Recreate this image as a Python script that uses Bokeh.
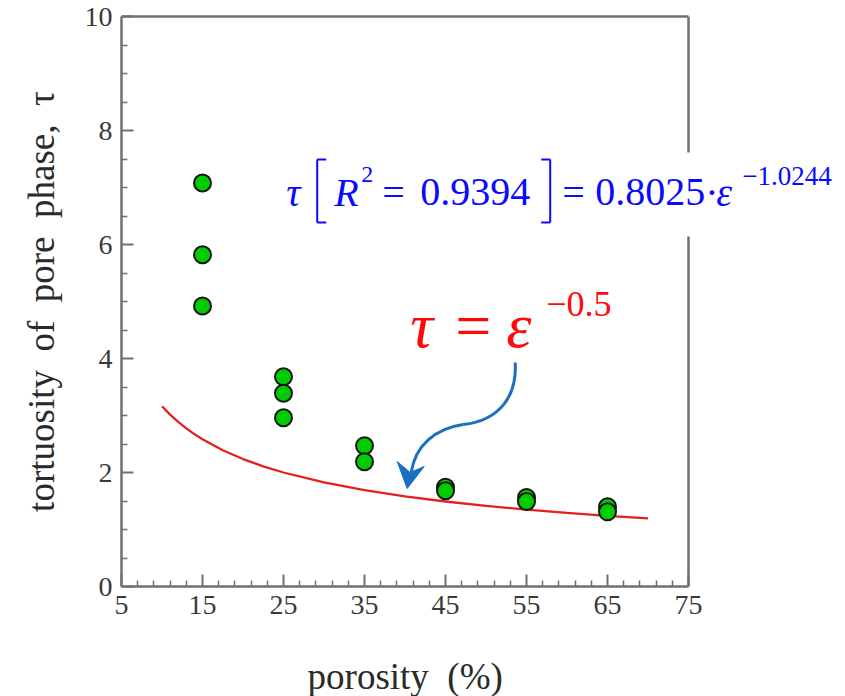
import numpy as np
from bokeh.plotting import figure
from bokeh.models import FixedTicker, Label, Range1d, LinearAxis, Span, BoxAnnotation
from bokeh.embed import file_html
from bokeh.resources import INLINE

# ---- data ----
porosity = [15, 15, 15, 25, 25, 25, 35, 35, 45, 45, 55, 55, 65, 65]
tortuosity = [7.08, 5.82, 4.92, 3.68, 3.39, 2.96, 2.47, 2.19, 1.74, 1.68, 1.56, 1.49, 1.40, 1.31]

curve_porosity = [10, 11, 12, 13, 14, 15, 17.5, 20, 22.5, 25, 30, 35, 40, 45, 50, 55, 60, 65, 70]
curve_tau = [3.162, 3.015, 2.887, 2.774, 2.673, 2.582, 2.390, 2.236, 2.108, 2.000,
             1.826, 1.690, 1.581, 1.491, 1.414, 1.348, 1.291, 1.240, 1.195]

x_ticks = [5, 15, 25, 35, 45, 55, 65, 75]
y_ticks = [0, 2, 4, 6, 8, 10]

AX = "#707070"
FONT = "Liberation Serif"
BLUE = "#0a0aff"
RED = "#ff0a0a"
ARROW = "#1b6ec2"
NB = "\u00a0"

W, H = 845, 696
LEFT, TOP, BOTTOM = 121, 16, 110
PX_PER_X = 8.1
x_end = 5 + (W - LEFT) / PX_PER_X   # frame runs to the right edge so the equation is not clipped

p = figure(width=W, height=H, x_range=Range1d(5, x_end), y_range=Range1d(0, 10),
           output_backend="svg", toolbar_location=None,
           min_border_left=LEFT, min_border_right=0, min_border_top=TOP, min_border_bottom=BOTTOM)
p.xgrid.visible = False
p.ygrid.visible = False
p.outline_line_color = None
p.background_fill_color = "white"
p.border_fill_color = "white"

x_minor = [t + d for t in x_ticks[:-1] for d in (2, 4, 6, 8)]
y_minor = [t + d for t in y_ticks[:-1] for d in (0.5, 1.0, 1.5)]
p.xaxis.ticker = FixedTicker(ticks=x_ticks, minor_ticks=x_minor)
p.yaxis.ticker = FixedTicker(ticks=y_ticks, minor_ticks=y_minor)
p.xaxis.bounds = (5, 75)

for ax in (p.xaxis, p.yaxis):
    ax.axis_line_color = AX
    ax.axis_line_width = 2.5
    ax.major_tick_line_color = AX
    ax.minor_tick_line_color = AX
    ax.major_tick_line_width = 2
    ax.minor_tick_line_width = 1.5
    ax.major_tick_in = 12
    ax.major_tick_out = 0
    ax.minor_tick_in = 6
    ax.minor_tick_out = 0
    ax.major_label_text_font = FONT
    ax.major_label_text_font_size = "28px"
    ax.major_label_text_color = "#3a3a3a"
    ax.major_label_standoff = 9

p.yaxis.axis_label = f"tortuosity{NB} of{NB} pore{NB} phase,{NB} \u03c4"
p.yaxis.axis_label_text_font = FONT
p.yaxis.axis_label_text_font_size = "37px"
p.yaxis.axis_label_text_font_style = "normal"
p.yaxis.axis_label_text_color = "#2a2a2a"
p.yaxis.axis_label_standoff = 20

# top spine (axis without ticks) and right spine
top_axis = LinearAxis(bounds=(5, 75), ticker=FixedTicker(ticks=[]), axis_line_color=AX,
                      axis_line_width=2.5, major_tick_in=0, major_tick_out=0,
                      minor_tick_in=0, minor_tick_out=0, major_label_text_font_size="0px",
                      major_label_standoff=0)
p.add_layout(top_axis, "above")
p.add_layout(Span(location=75, dimension="height", line_color=AX, line_width=2.5))


# helpers: page pixel -> data coords (for annotation placement)
def X(px):
    return 5 + (px - LEFT - 0.3) / PX_PER_X


def Y(py):
    return (586 - py) / 57.0


# white box behind equation (the spine is hidden there in the reference)
p.add_layout(BoxAnnotation(left=X(676), right=X(700), top=Y(152), bottom=Y(236),
                           fill_color="white", fill_alpha=1, line_color=None))

# reference curve and data points
p.line(curve_porosity, curve_tau, line_color="#e3201c", line_width=2.3)
p.scatter(porosity, tortuosity, size=17, fill_color="#00cc00", line_color="#151515", line_width=2)


def lab(text, px, py, size, color, style="normal", align="left", place=None):
    # py is the wanted baseline; Bokeh draws "alphabetic" text a bit lower, compensate
    l = Label(x=X(px), y=Y(py - 0.31 * size), text=text, text_font=FONT,
              text_font_size=f"{size}px", text_color=color, text_font_style=style,
              text_align=align, text_baseline="alphabetic")
    if place:
        p.add_layout(l, place)
    else:
        p.add_layout(l)


# x axis title (in the lower panel, so it is not clipped)
lab(f"porosity{NB} (%)", 405, 687, 37, "#2a2a2a", align="center", place="below")

# blue fitted equation
bb = 204
lab("\u03c4", 286, bb, 40, BLUE, style="italic")
lab("R", 334, bb, 40, BLUE, style="italic")
lab("2", 361, bb - 23, 24, BLUE)
lab("=", 382, bb, 40, BLUE)
lab("0.9394", 420, bb, 40, BLUE)
lab("=", 562, bb, 40, BLUE)
lab("0.8025", 595, bb, 40, BLUE)
lab("\u00b7", 705, bb, 40, BLUE)
lab("\u03b5", 716, bb, 40, BLUE, style="italic")
lab("\u22121.0244", 742, bb - 20, 27, BLUE)
# brackets
bt, bbot = 159, 222
p.segment(x0=[X(317), X(317), X(317), X(550), X(541), X(541)],
          y0=[Y(bt), Y(bt), Y(bbot), Y(bt), Y(bt), Y(bbot)],
          x1=[X(317), X(326), X(326), X(550), X(550), X(550)],
          y1=[Y(bbot), Y(bt), Y(bbot), Y(bbot), Y(bt), Y(bbot)],
          line_color=BLUE, line_width=2)

# red theoretical equation
rb = 345
lab("\u03c4", 410, rb, 64, RED, style="italic")
lab("=", 455, rb, 64, RED)
lab("\u03b5", 506, rb, 64, RED, style="italic")
lab("\u22120.5", 546, rb - 30, 36, RED)

# curved arrow
p.bezier(x0=[X(515), X(463)], y0=[Y(362), Y(424)],
         x1=[X(463), X(411)], y1=[Y(424), Y(472)],
         cx0=[X(517), X(435)], cy0=[Y(395), Y(428)],
         cx1=[X(500), X(415)], cy1=[Y(420), Y(445)],
         line_color=ARROW, line_width=3)
p.patch(x=[X(407), X(397), X(410), X(424)], y=[Y(488), Y(461), Y(472), Y(466)],
        fill_color=ARROW, line_color=ARROW, line_width=1)

open("out.html", "w").write(file_html(p, INLINE))
